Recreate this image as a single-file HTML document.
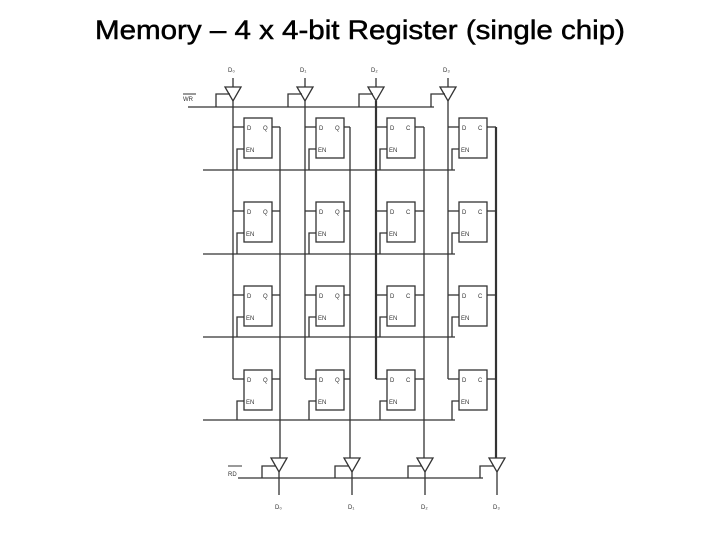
<!DOCTYPE html>
<html><head><style>
body{margin:0;background:#fff;width:720px;height:540px;overflow:hidden}
</style></head><body>
<svg width="720" height="540" xmlns="http://www.w3.org/2000/svg" font-family="Liberation Sans, sans-serif">
<text x="360" y="39" text-anchor="middle" font-size="27" stroke="#000" stroke-width="0.5" textLength="530" lengthAdjust="spacingAndGlyphs" fill="#000">Memory – 4 x 4-bit Register (single chip)</text>
<g stroke="#333" stroke-width="1.3" fill="none">
<line x1="188" y1="107" x2="434" y2="107"/>
<line x1="238" y1="478" x2="483" y2="478"/>
</g>
<g id="cols" stroke="#333" stroke-width="1.3" fill="none">
</g>
<g font-size="6" fill="#333">
<text x="183" y="101">WR</text>
<line x1="183" y1="94" x2="196" y2="94" stroke="#333" stroke-width="1"/>
<text x="228" y="476">RD</text>
<line x1="228" y1="466" x2="242" y2="466" stroke="#333" stroke-width="1"/>
</g>
<script>
var svg=document.querySelector('#cols');var ns="http://www.w3.org/2000/svg";
function L(x1,y1,x2,y2,w){var e=document.createElementNS(ns,'line');e.setAttribute('x1',x1);e.setAttribute('y1',y1);e.setAttribute('x2',x2);e.setAttribute('y2',y2);if(w)e.setAttribute('stroke-width',w);svg.appendChild(e);}
function P(d,w){var e=document.createElementNS(ns,'path');e.setAttribute('d',d);if(w)e.setAttribute('stroke-width',w);svg.appendChild(e);}
function T(x,y,s,fs){var e=document.createElementNS(ns,'text');e.setAttribute('x',x);e.setAttribute('y',y);e.setAttribute('font-size',fs||7);e.setAttribute('fill','#333');e.setAttribute('stroke','none');e.textContent=s;svg.appendChild(e);}
var cx=[233,305,376,448],qx=[280,350,424,496],bx=[279,352,425,497];
var tops=[118,202,286,370],rows=[170,254,337,420];
var lab=['D₀','D₁','D₂','D₃'];
for(var r=0;r<4;r++){L(203,rows[r],cx[3]+7,rows[r]);}
for(var c=0;c<4;c++){
 var x=cx[c],w=(c==2?2.2:1.3);
 T(x-5,72,lab[c],6);
 L(x,78,x,87);
 P('M'+(x-8)+' 87 L'+(x+8)+' 87 L'+x+' 101 Z');
 L(x,101,x,tops[3]+9,w);
 P('M'+(x-17)+' 107 L'+(x-17)+' 94 L'+(x-3)+' 94');
 var b=x+11;
 for(var r=0;r<4;r++){
  var t=tops[r];
  var rect=document.createElementNS(ns,'rect');rect.setAttribute('x',b);rect.setAttribute('y',t);rect.setAttribute('width',28);rect.setAttribute('height',40);svg.appendChild(rect);
  L(x,t+9,b,t+9);
  P('M'+(b+28)+' '+(t+9)+' L'+qx[c]+' '+(t+9));
  P('M'+(x+4)+' '+rows[r]+' L'+(x+4)+' '+(t+31)+' L'+b+' '+(t+31));
  T(b+3,t+12,'D',6);T(b+19,t+12,c<2?'Q':'C',6);T(b+2,t+34,'EN',6);
 }
 var q=qx[c];
 L(q,tops[0]+9,q,458,c==3?2.2:1.3);
 var bb=bx[c];
 P('M'+(bb-8)+' 458 L'+(bb+8)+' 458 L'+bb+' 472 Z');
 L(bb,472,bb,495);
 P('M'+(bb-17)+' 478 L'+(bb-17)+' 466 L'+(bb-3)+' 466');
 T(bb-4,509,lab[c],6);
}
</script>
</svg>
</body></html>
